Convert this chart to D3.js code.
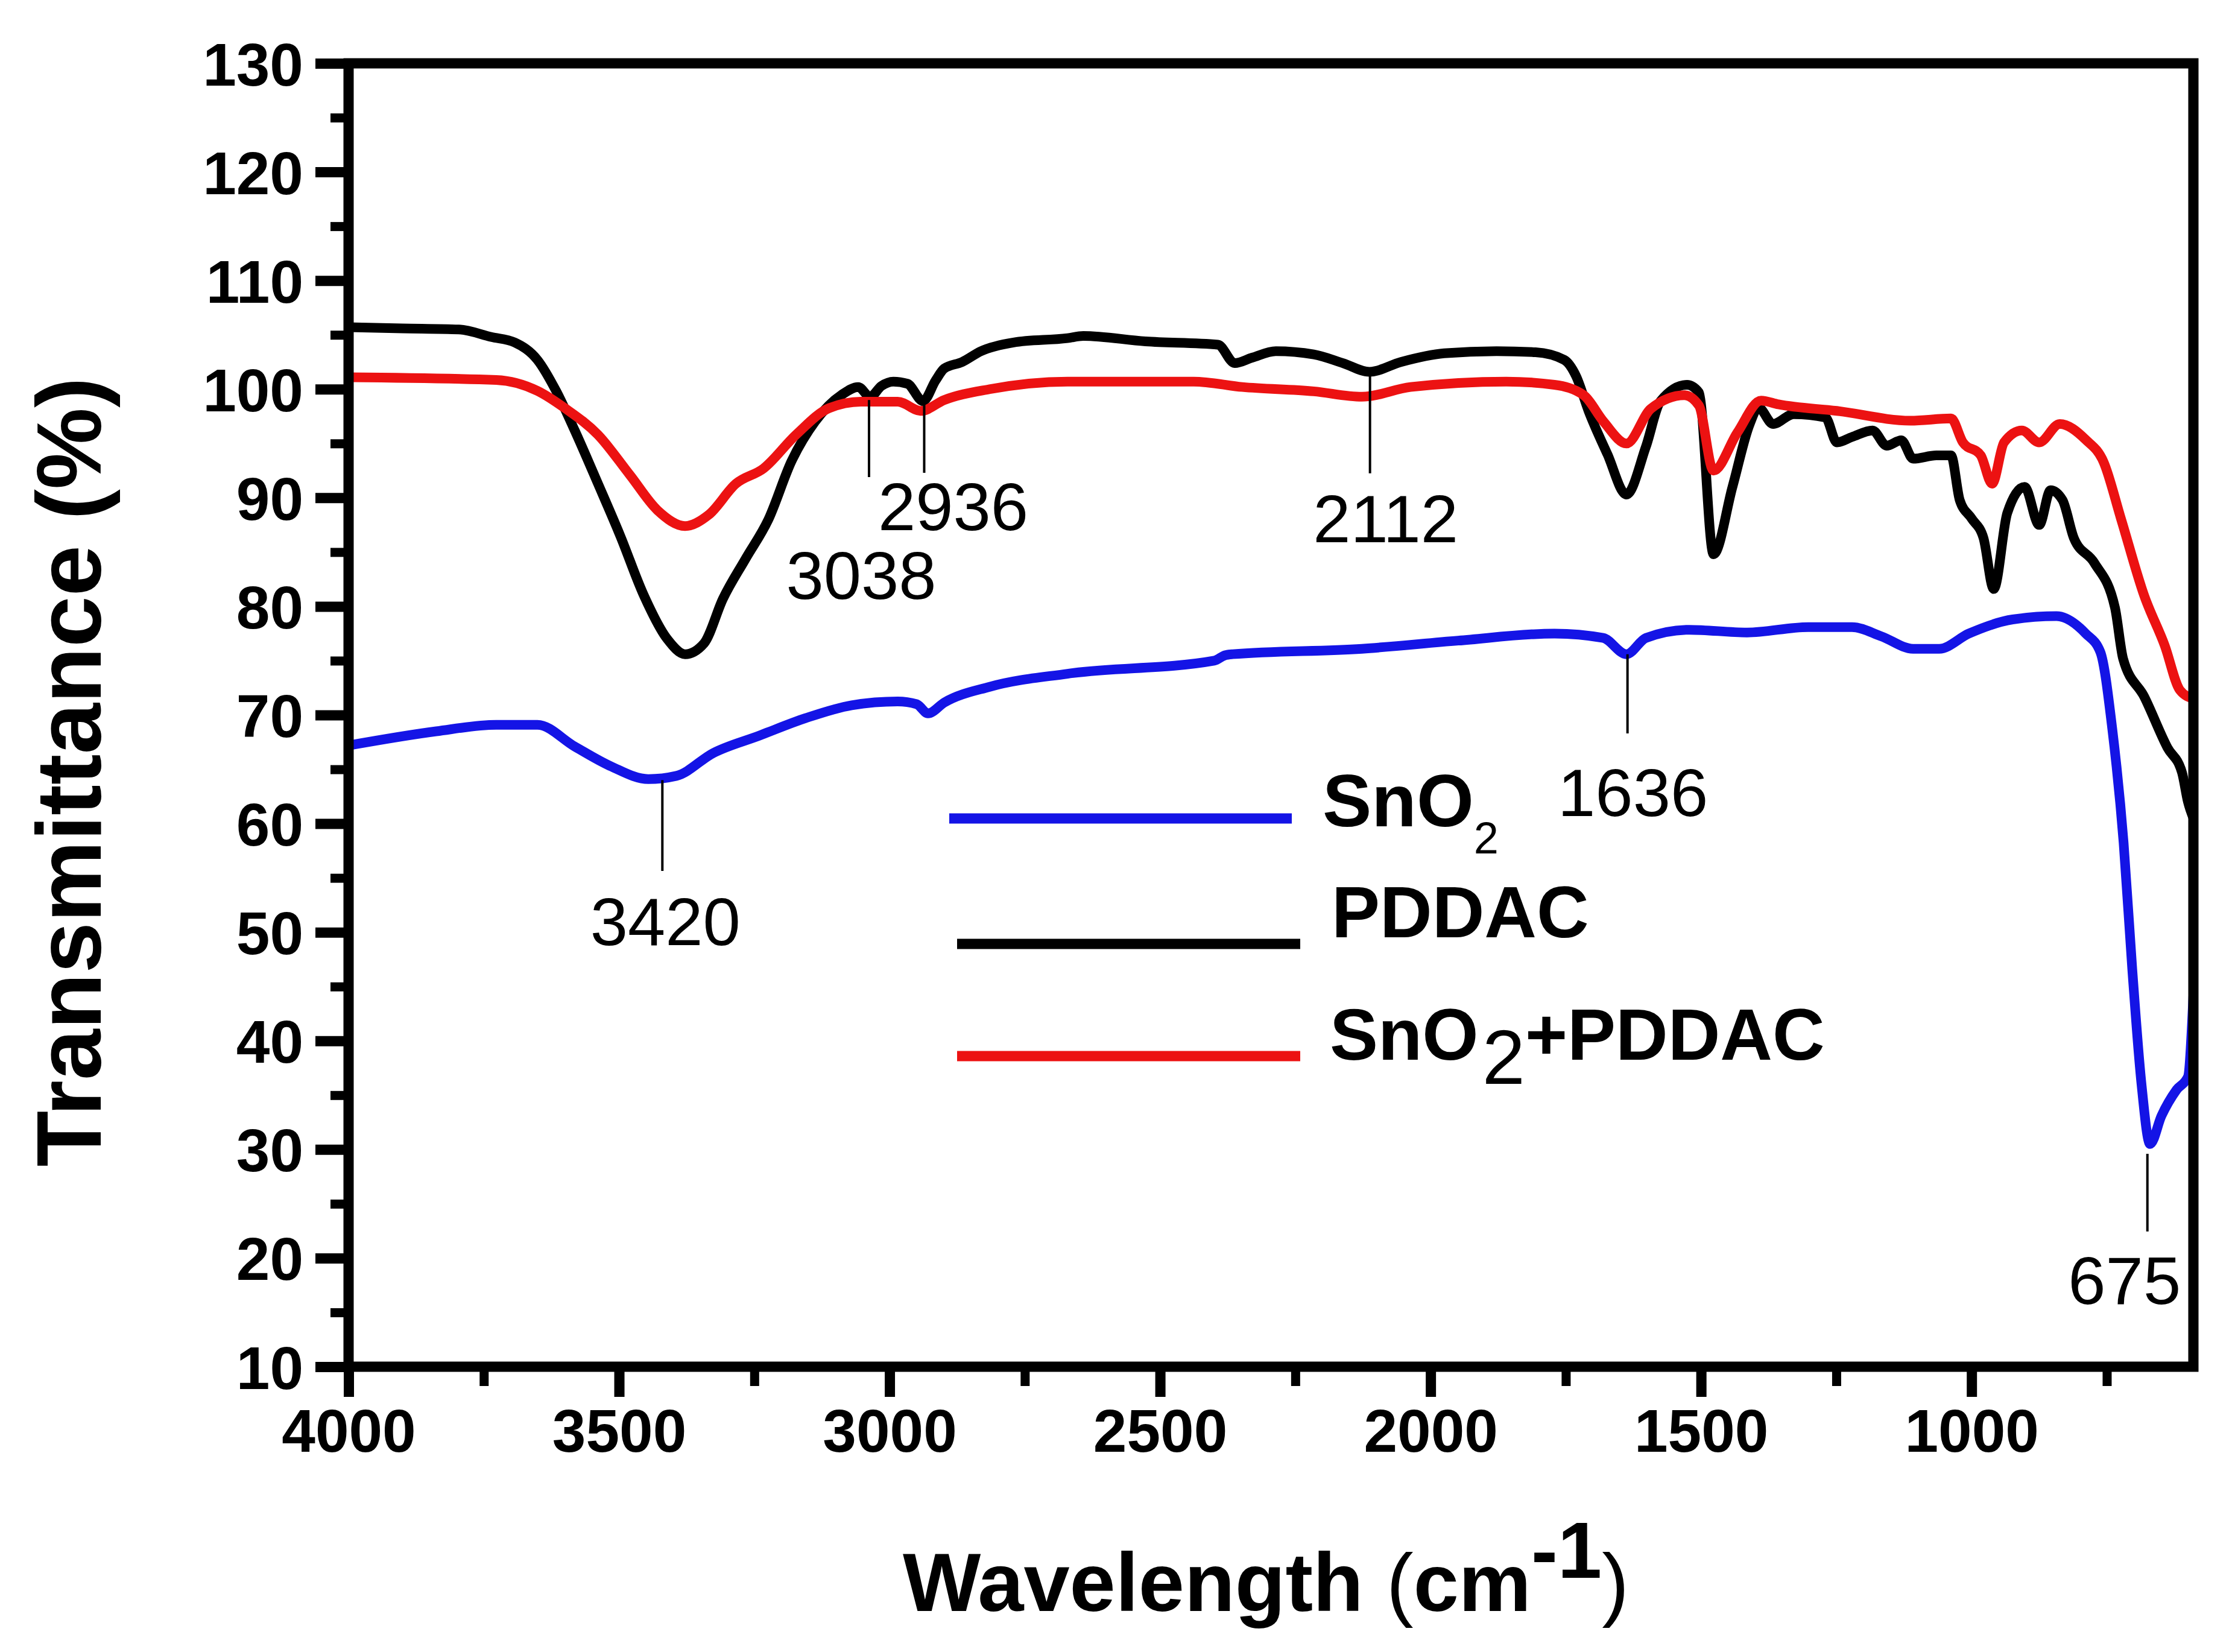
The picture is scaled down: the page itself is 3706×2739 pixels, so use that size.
<!DOCTYPE html>
<html>
<head>
<meta charset="utf-8">
<script src="https://cdn.jsdelivr.net/npm/d3@7"></script>
<style>
  html, body { margin: 0; padding: 0; background: #fff; }
  svg { display: block; }
  text { font-family: "Liberation Sans", Arial, Helvetica, sans-serif; }
</style>
</head>
<body>
<svg id="chart" width="3706" height="2739"></svg>
<script>
// ---------------- DATA ----------------
const xTickValues = [4000, 3500, 3000, 2500, 2000, 1500, 1000];
const xMinorTicks = [3750, 3250, 2750, 2250, 1750, 1250, 750];
const yTickValues = [10, 20, 30, 40, 50, 60, 70, 80, 90, 100, 110, 120, 130];
const yMinorTicks = [15, 25, 35, 45, 55, 65, 75, 85, 95, 105, 115, 125];

const seriesNames = ["SnO2", "PDDAC", "SnO2+PDDAC"];

// PDDAC (black)
const pddacWn = [4000,3900,3796,3736,3693,3651,3616,3582,3539,3497,3455,3411,3378,3343,3308,3266,3224,3181,3138,3088,3058,3036,3015,2993,2967,2938,2915,2899,2866,2831,2771,2671,2642,2527,2393,2362,2330,2286,2216,2162,2113,2055,1975,1878,1806,1753,1731,1708,1673,1638,1602,1575,1526,1504,1477,1442,1410,1394,1367,1329,1270,1249,1221,1183,1157,1130,1108,1065,1038,1022,1000,978,959,934,902,875,854,832,811,773,735,720,681,638,611,600,590];
const pddacT  = [105.7,105.6,105.5,104.8,104.3,102.7,99.8,96.2,91.3,86.4,81.1,77.0,75.6,76.6,80.7,84.4,88.0,93.4,97.0,99.5,100.2,99.3,100.3,100.7,100.5,98.9,100.8,101.9,102.5,103.5,104.3,104.7,104.9,104.4,104.1,102.4,102.9,103.5,103.2,102.4,101.6,102.5,103.3,103.5,103.4,102.7,101.2,98.0,94.0,90.3,94.7,98.9,100.4,99.7,84.8,91.0,96.8,98.3,96.8,97.7,97.4,95.1,95.6,96.2,94.8,95.3,93.6,93.9,93.9,89.8,88.1,86.3,81.6,88.6,91.0,87.5,90.7,89.8,86.3,84.0,79.9,75.2,71.7,67.0,64.7,62.0,60.5];

// SnO2+PDDAC (red)
const mixWn = [4000,3727,3651,3600,3539,3480,3429,3378,3334,3284,3233,3173,3112,3053,2985,2942,2899,2815,2671,2438,2348,2216,2127,2037,1860,1771,1717,1680,1638,1593,1531,1504,1477,1433,1389,1357,1249,1113,1038,1016,983,962,940,907,875,837,789,756,724,681,643,615,590];
const mixT  = [101.1,100.85,99.85,98.25,95.8,92.1,88.85,87.4,88.45,91.3,92.7,95.8,98.25,98.85,98.85,98.0,99.0,100.0,100.7,100.7,100.2,99.8,99.3,100.2,100.7,100.4,99.45,97.0,95.0,98.2,99.45,98.5,92.5,96.0,98.95,98.6,98.0,97.1,97.3,95.1,93.9,91.3,95.1,96.2,95.1,96.8,95.35,93.3,88.1,81.0,76.4,72.3,71.5];

// SnO2 (blue)
const sno2Wn = [4000,3838,3727,3651,3582,3514,3446,3394,3326,3241,3156,3070,2985,2950,2929,2899,2815,2671,2400,2380,2366,2127,1949,1771,1681,1638,1602,1522,1415,1302,1221,1167,1108,1060,1005,924,843,789,762,740,719,703,686,670,649,621,600,590];
const sno2T  = [67.2,68.5,69.1,69.1,67.1,65.25,64.1,64.4,66.5,68.1,69.7,70.9,71.25,71.0,70.15,71.15,72.6,73.8,75.0,75.5,75.6,76.1,76.85,77.5,77.1,75.6,77.1,77.85,77.6,78.1,78.1,77.25,76.1,76.1,77.5,78.8,79.1,77.5,75.8,68.75,58.25,46.6,36.05,30.5,33.1,35.5,36.7,44.2];

// peak annotations
const peakWn    = [3420, 3038, 2936, 2112, 1636, 675];
const peakLabel = ["3420", "3038", "2936", "2112", "1636", "675"];
const peakLineTop    = [64.0, 99.0, 99.0, 101.7, 75.6, 29.6];
const peakLineBottom = [55.65, 91.9, 92.3, 92.25, 68.3, 22.45];
const peakTextBase   = [48.8, 80.7, 87.0, 85.9, 60.7, 15.8];
const peakTextShift  = [5, -13, 48, 26, 9, -38];

// ---------------- LAYOUT ----------------
const svg = d3.select("#chart");
const L = 578, R = 3637, T = 105, B = 2266;
const x = d3.scaleLinear().domain([4000, 590]).range([L, R]);
const y = d3.scaleLinear().domain([10, 130]).range([B, T]);
const AX = 17;

const colors = { "SnO2": "#1414e6", "PDDAC": "#000000", "SnO2+PDDAC": "#ec1212" };

// ---------------- CURVES ----------------
const line = d3.line().x(d => x(d[0])).y(d => y(d[1])).curve(d3.curveMonotoneX);
const zip = (a, b) => a.map((v, i) => [v, b[i]]);
const series = [
  { name: "PDDAC", pts: zip(pddacWn, pddacT) },
  { name: "SnO2+PDDAC", pts: zip(mixWn, mixT) },
  { name: "SnO2", pts: zip(sno2Wn, sno2T) }
];
svg.append("g").selectAll("path").data(series).join("path")
  .attr("d", d => line(d.pts))
  .attr("fill", "none")
  .attr("stroke", d => colors[d.name])
  .attr("stroke-width", 16)
  .attr("stroke-linejoin", "round")
  .attr("stroke-linecap", "round");

// ---------------- PEAK ANNOTATIONS ----------------
const ann = svg.append("g");
peakWn.forEach((w, i) => {
  ann.append("line")
    .attr("x1", x(w)).attr("x2", x(w))
    .attr("y1", y(peakLineTop[i])).attr("y2", y(peakLineBottom[i]))
    .attr("stroke", "#000").attr("stroke-width", 4);
  ann.append("text")
    .attr("x", x(w) + peakTextShift[i]).attr("y", y(peakTextBase[i]))
    .attr("text-anchor", "middle")
    .attr("font-size", 112).attr("fill", "#000")
    .text(peakLabel[i]);
});

// ---------------- AXES ----------------
const yAxis = svg.append("g").attr("transform", `translate(${L},0)`)
  .call(d3.axisLeft(y).tickValues(yTickValues).tickSize(55).tickPadding(20).tickSizeOuter(0));
yAxis.select(".domain").remove();
yAxis.selectAll(".tick line").attr("stroke", "#000").attr("stroke-width", AX);
yAxis.selectAll(".tick text").attr("font-size", 100).attr("font-weight", "bold")
  .attr("fill", "#000").attr("font-family", "Liberation Sans, Arial, sans-serif").attr("dy", "0.36em");

const yMinor = svg.append("g").attr("transform", `translate(${L},0)`)
  .call(d3.axisLeft(y).tickValues(yMinorTicks).tickSize(30).tickFormat(""));
yMinor.select(".domain").remove();
yMinor.selectAll(".tick line").attr("stroke", "#000").attr("stroke-width", 15);

const xAxis = svg.append("g").attr("transform", `translate(0,${B})`)
  .call(d3.axisBottom(x).tickValues(xTickValues).tickSize(50).tickPadding(20).tickFormat(d3.format("d")));
xAxis.select(".domain").remove();
xAxis.selectAll(".tick line").attr("stroke", "#000").attr("stroke-width", AX);
xAxis.selectAll(".tick text").attr("font-size", 100).attr("font-weight", "bold")
  .attr("fill", "#000").attr("font-family", "Liberation Sans, Arial, sans-serif");

const xMinor = svg.append("g").attr("transform", `translate(0,${B})`)
  .call(d3.axisBottom(x).tickValues(xMinorTicks).tickSize(32).tickFormat(""));
xMinor.select(".domain").remove();
xMinor.selectAll(".tick line").attr("stroke", "#000").attr("stroke-width", 15);

// frame
svg.append("rect").attr("x", L).attr("y", T).attr("width", R - L).attr("height", B - T)
  .attr("fill", "none").attr("stroke", "#000").attr("stroke-width", AX);

// ---------------- AXIS TITLES ----------------
svg.append("text")
  .attr("transform", "translate(167,1280) rotate(-90)")
  .attr("text-anchor", "middle").attr("font-size", 152).attr("font-weight", "bold")
  .attr("fill", "#000").text("Transmittance (%)");

const xt = svg.append("text").attr("x", 1497).attr("y", 2671).attr("font-weight", "bold").attr("fill", "#000");
xt.append("tspan").attr("font-size", 137).text("Wavelength ");
xt.append("tspan").attr("font-size", 135).attr("font-weight", "normal").text("(");
xt.append("tspan").attr("font-size", 135).text("cm");
xt.append("tspan").attr("dy", -55).attr("font-size", 132).text("-1");
xt.append("tspan").attr("dy", 55).attr("font-size", 135).attr("font-weight", "normal").text(")");

// ---------------- LEGEND ----------------
const legendRows = [
  { name: "SnO2", x1: 1574, x2: 2142, ly: 1357 },
  { name: "PDDAC", x1: 1587, x2: 2156, ly: 1565 },
  { name: "SnO2+PDDAC", x1: 1587, x2: 2156, ly: 1751 }
];
const lg = svg.append("g");
lg.selectAll("line").data(legendRows).join("line")
  .attr("x1", d => d.x1).attr("x2", d => d.x2)
  .attr("y1", d => d.ly).attr("y2", d => d.ly)
  .attr("stroke", d => colors[d.name]).attr("stroke-width", 17);

const t1 = lg.append("text").attr("x", 2193).attr("y", 1370).attr("fill", "#000").attr("font-weight", "bold").attr("font-size", 122);
t1.append("tspan").text("SnO");
t1.append("tspan").attr("dy", 45).attr("font-size", 74).attr("font-weight", "normal").text("2");

const t2 = lg.append("text").attr("x", 2208).attr("y", 1554).attr("fill", "#000")
  .attr("font-weight", "bold").attr("font-size", 120).text(seriesNames[1]);

const t3 = lg.append("text").attr("x", 2205).attr("y", 1757).attr("fill", "#000").attr("font-weight", "bold").attr("font-size", 120);
t3.append("tspan").text("SnO");
t3.append("tspan").attr("dx", 6).attr("dy", 40).attr("font-size", 128).attr("font-weight", "normal").text("2");
t3.append("tspan").attr("dx", 0).attr("dy", -40).text("+PDDAC");
</script>
</body>
</html>
